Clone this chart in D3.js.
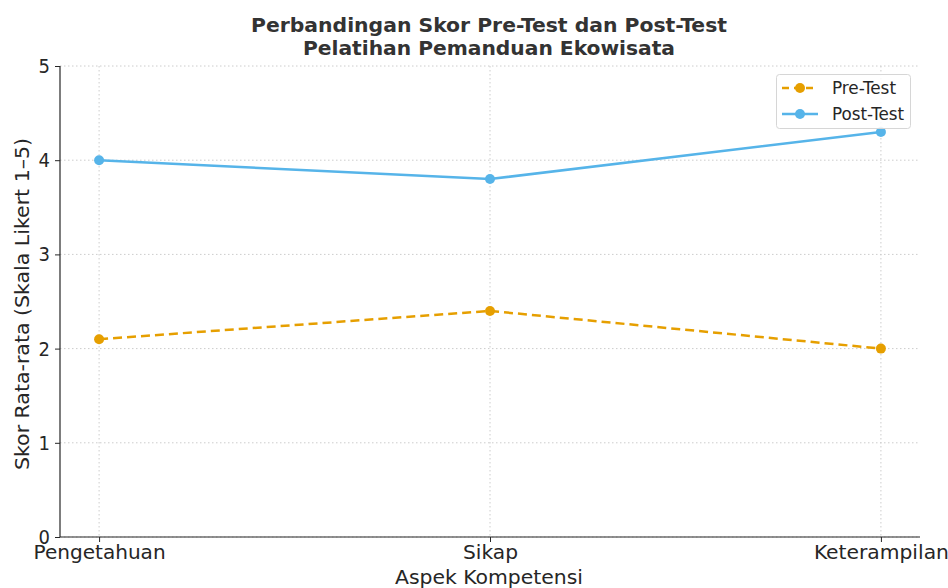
<!DOCTYPE html>
<html>
<head>
<meta charset="utf-8">
<script src="https://cdn.jsdelivr.net/npm/d3@7"></script>
<style>
  html, body { margin: 0; padding: 0; background: #fff; }
  svg { display: block; font-family: "DejaVu Sans Condensed", "DejaVu Sans", sans-serif; font-stretch: condensed; }
</style>
</head>
<body>
<svg id="chart" width="948" height="588"></svg>
<script>
const categories = ["Pengetahuan", "Sikap", "Keterampilan"];
const preTest = [2.1, 2.4, 2.0];
const postTest = [4.0, 3.8, 4.3];
const yTicks = [0, 1, 2, 3, 4, 5];
const seriesNames = ["Pre-Test", "Post-Test"];
const titleLines = ["Perbandingan Skor Pre-Test dan Post-Test", "Pelatihan Pemanduan Ekowisata"];
const xTitle = "Aspek Kompetensi";
const yTitle = "Skor Rata-rata (Skala Likert 1–5)";

(function () {
const svg = d3.select("#chart");
const pL = 60, pR = 920, pT = 66, pB = 537;
const textColor = "#262626";
const fam = '"DejaVu Sans Condensed", "DejaVu Sans", sans-serif';

const x = d3.scaleLinear().domain([-0.1, 2.1]).range([pL, pR]);
const y = d3.scaleLinear().domain([0, 5]).range([pB, pT]);

// Grid
const grid = svg.append("g");
yTicks.forEach(t => {
  grid.append("line").attr("x1", pL).attr("x2", pR).attr("y1", y(t)).attr("y2", y(t))
    .attr("stroke", "#cccccc").attr("stroke-width", 1).attr("stroke-dasharray", "1.5,2.5");
});
categories.forEach((c, i) => {
  grid.append("line").attr("x1", x(i)).attr("x2", x(i)).attr("y1", pT).attr("y2", pB)
    .attr("stroke", "#cccccc").attr("stroke-width", 1).attr("stroke-dasharray", "1.5,2.5");
});

// Axes
const yAxis = d3.axisLeft(y).tickValues(yTicks).tickFormat(d3.format("d")).tickSize(5).tickPadding(5);
const yg = svg.append("g").attr("transform", `translate(${pL},0)`).call(yAxis);
yg.select(".domain").attr("stroke", textColor).attr("stroke-width", 1.2).attr("d", `M0,${pB}V${pT}`);
yg.selectAll(".tick line").attr("stroke", textColor);
yg.selectAll(".tick text").attr("fill", textColor).style("font-size", "20px").style("font-family", fam);

const xAxis = d3.axisBottom(x).tickValues(categories.map((c, i) => i)).tickFormat(i => categories[i]).tickSize(5).tickPadding(3);
const xg = svg.append("g").attr("transform", `translate(0,${pB})`).call(xAxis);
xg.select(".domain").attr("stroke", textColor).attr("stroke-width", 1.2).attr("d", `M${pL},0H${pR}`);
xg.selectAll(".tick line").attr("stroke", textColor);
const xLabelW = [132, 55, 135];
xg.selectAll(".tick text").attr("fill", textColor).style("font-size", "20px").style("font-family", fam)
  .attr("textLength", (d, i) => xLabelW[i]).attr("lengthAdjust", "spacingAndGlyphs");

// Lines
const line = d3.line().x((d, i) => x(i)).y(d => y(d));
const series = [
  { name: seriesNames[0], values: preTest, color: "#E69F00", dash: "9,5" },
  { name: seriesNames[1], values: postTest, color: "#56B4E9", dash: null }
];
series.forEach(s => {
  svg.append("path").datum(s.values).attr("d", line).attr("fill", "none")
    .attr("stroke", s.color).attr("stroke-width", 2.5).attr("stroke-dasharray", s.dash);
  svg.append("g").selectAll("circle").data(s.values).join("circle")
    .attr("cx", (d, i) => x(i)).attr("cy", d => y(d)).attr("r", 5).attr("fill", s.color);
});

// Titles
const titleW = [476, 372];
titleLines.forEach((t, i) => {
  svg.append("text").attr("x", 489).attr("y", 32 + i * 22.5).attr("text-anchor", "middle")
    .attr("fill", "#333333").style("font-weight", "bold").style("font-size", "19px").style("font-family", fam)
    .attr("textLength", titleW[i]).attr("lengthAdjust", "spacingAndGlyphs").text(t);
});
svg.append("text").attr("x", 489).attr("y", 584).attr("text-anchor", "middle").attr("fill", textColor)
  .style("font-size", "20px").style("font-family", fam)
  .attr("textLength", 188).attr("lengthAdjust", "spacingAndGlyphs").text(xTitle);
svg.append("text").attr("transform", "translate(29,304) rotate(-90)").attr("text-anchor", "middle").attr("fill", textColor)
  .style("font-size", "20px").style("font-family", fam)
  .attr("textLength", 332).attr("lengthAdjust", "spacingAndGlyphs").text(yTitle);

// Legend
const lg = svg.append("g");
lg.append("rect").attr("x", 776.5).attr("y", 74.5).attr("width", 134).attr("height", 54).attr("rx", 3)
  .attr("fill", "#ffffff").attr("fill-opacity", 0.85).attr("stroke", "#d6d6d6");
const legW = [64, 72];
series.forEach((s, i) => {
  const ly = 88 + i * 26;
  lg.append("line").attr("x1", 782).attr("x2", 818).attr("y1", ly).attr("y2", ly)
    .attr("stroke", s.color).attr("stroke-width", 2.5).attr("stroke-dasharray", s.dash ? "7,5" : null);
  lg.append("circle").attr("cx", 800).attr("cy", ly).attr("r", 5).attr("fill", s.color);
  lg.append("text").attr("x", 832).attr("y", ly + 6).attr("fill", textColor).style("font-size", "17px").style("font-family", fam)
    .attr("textLength", legW[i]).attr("lengthAdjust", "spacingAndGlyphs").text(s.name);
});
})();
</script>
</body>
</html>
